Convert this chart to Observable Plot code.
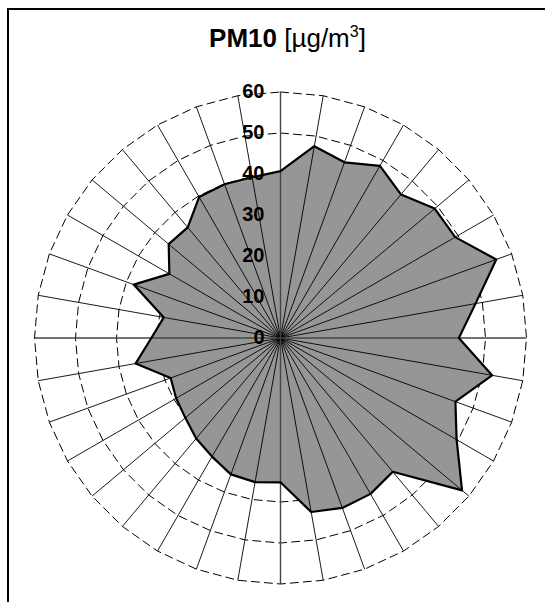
<!DOCTYPE html>
<html>
<head>
<meta charset="utf-8">
<script src="https://cdn.jsdelivr.net/npm/d3@7"></script>
<script src="https://cdn.jsdelivr.net/npm/@observablehq/plot@0.6"></script>
<style>
  html, body { margin: 0; padding: 0; background: #fff; overflow: hidden; }
  body { width: 545px; height: 602px; position: relative; font-family: "Liberation Sans", Arial, sans-serif; }
  #frame { position: absolute; left: 7px; top: 8px; width: 620px; height: 700px; border: 2px solid #000; }
  #title { position: absolute; left: 0; top: 25px; width: 575px; text-align: center; font-size: 26px; line-height: 26px; color: #000; }
  #title b { font-weight: bold; }
  #title sup { font-size: 16px; line-height: 0; vertical-align: 10px; }
  #chart { position: absolute; left: 0; top: 60px; }
</style>
</head>
<body>
<div id="frame"></div>
<div id="title"><b>PM10</b> [µg/m<sup>3</sup>]</div>
<div id="chart"></div>
<script>
// Categories: direction in degrees (clockwise from north)
const directions = [0, 10, 20, 30, 40, 50, 60, 70, 80, 90, 100, 110, 120, 130, 140, 150, 160, 170,
                    180, 190, 200, 210, 220, 230, 240, 250, 260, 270, 280, 290, 300, 310, 320, 330, 340, 350];
// PM10 concentration per direction [µg/m3]
const pm10 = [40.7, 47.5, 45.6, 48.5, 45.7, 49.1, 49.2, 56.0, 48.3, 43.5, 52.4, 45.4, 49.6, 57.8, 42.6, 43.9, 44.1, 43.1,
              35.2, 35.7, 35.4, 33.4, 32.0, 30.3, 29.4, 28.5, 35.9, 31.5, 28.9, 38.1, 31.3, 35.6, 35.2, 39.7, 39.9, 39.8];
// Value axis ticks
const ticks = [0, 10, 20, 30, 40, 50, 60];
const rMax = 60;

const rad = d => d * Math.PI / 180;
const polar = (deg, v) => ({x: v * Math.sin(rad(deg)), y: v * Math.cos(rad(deg))});

const series = directions.map((d, i) => ({dir: d, v: pm10[i], ...polar(d, pm10[i])}));
const grid = ticks.filter(t => t > 0).flatMap(t => directions.map(d => ({level: t, ...polar(d, t)})));
const spokes = directions.map(d => ({dir: d, ...polar(d, rMax)}));
const labels = ticks.map(t => ({t, x: 0, y: t}));

const W = 545, H = 542, cx = 280, cy = 277.5, k = 4.1;

const chart = Plot.plot({
  width: W, height: H,
  margin: 0,
  x: {domain: [-cx / k, (W - cx) / k], axis: null},
  y: {domain: [-(H - cy) / k, cy / k], axis: null},
  marks: [
    Plot.line(grid, {x: "x", y: "y", z: "level", curve: "linear-closed", stroke: "#000", strokeWidth: 1, strokeDasharray: "8,5"}),
    Plot.line(series, {x: "x", y: "y", curve: "linear-closed", fill: "#969696", stroke: "none"}),
    Plot.link(spokes.filter(d => d.dir % 90 !== 0), {x1: 0, y1: 0, x2: "x", y2: "y", stroke: "#000", strokeWidth: 0.9}),
    Plot.link(spokes.filter(d => d.dir % 90 === 0), {x1: 0, y1: 0, x2: "x", y2: "y", stroke: "#444", strokeWidth: 1.4}),
    Plot.line(series, {x: "x", y: "y", curve: "linear-closed", stroke: "#000", strokeWidth: 2.2, fill: "none"}),
    Plot.text(labels, {x: "x", y: "y", text: d => String(d.t), textAnchor: "end", dx: -16, fontSize: 20, fontWeight: "bold", fill: "#000", fontFamily: "Liberation Sans, Arial, sans-serif"})
  ]
});
document.getElementById("chart").appendChild(chart);
</script>
</body>
</html>
